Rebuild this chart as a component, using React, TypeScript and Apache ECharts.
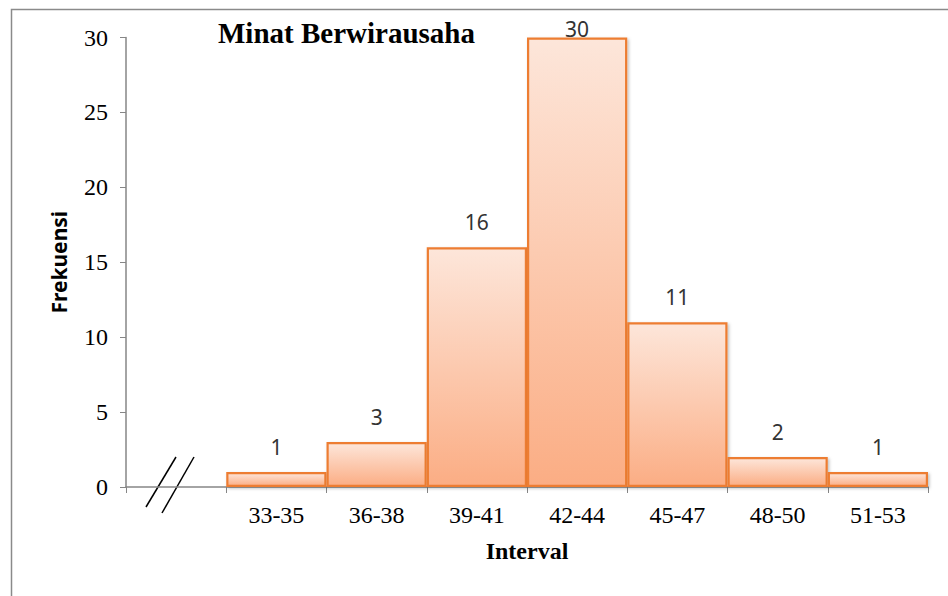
import React, { useEffect, useRef } from "react";
import * as echarts from "echarts";

const titleText = "Minat Berwirausaha";
const categories = ["33-35", "36-38", "39-41", "42-44", "45-47", "48-50", "51-53"];
const frequencies = [1, 3, 16, 30, 11, 2, 1];
const yTicks = { min: 0, max: 30, interval: 5 };
const xName = "Interval";
const yName = "Frekuensi";

export default function App() {
  const ref = useRef<HTMLDivElement>(null);
  useEffect(() => {
    if (!ref.current) return;
    const chart = echarts.init(ref.current, undefined, { renderer: "svg" });
    const xData = ["", ...categories];
    const maxVal = Math.max(...frequencies);
    const seriesData: any[] = ["-", ...frequencies.map((v) =>
      v === maxVal
        ? { value: v, label: { distance: -2 } }
        : v
    )];
    const serif = "'Liberation Serif', 'Times New Roman', serif";
    const sans = "'Noto Sans', sans-serif";
    chart.setOption({
      animation: false,
      backgroundColor: "#ffffff",
      title: {
        text: titleText,
        left: 213,
        top: 13,
        textStyle: { fontFamily: serif, fontWeight: "bold", fontSize: 29, color: "#000" },
      },
      grid: { left: 126, right: 20, top: 37.5, bottom: 109, containLabel: false },
      xAxis: {
        type: "category",
        data: xData,
        boundaryGap: true,
        name: xName,
        nameLocation: "middle",
        nameGap: 52,
        nameTextStyle: { fontFamily: serif, fontWeight: "bold", fontSize: 24, color: "#000" },
        axisLine: { lineStyle: { color: "#868686", width: 1.5 } },
        axisTick: { show: true, length: 6, lineStyle: { color: "#868686" } },
        axisLabel: { fontFamily: serif, fontSize: 24, color: "#000", margin: 16 },
      },
      yAxis: {
        type: "value",
        min: yTicks.min,
        max: yTicks.max,
        interval: yTicks.interval,
        name: yName,
        nameLocation: "middle",
        nameGap: 57,
        nameTextStyle: { fontFamily: sans, fontWeight: "bold", fontSize: 21, color: "#000" },
        splitLine: { show: false },
        axisLine: { show: true, lineStyle: { color: "#868686", width: 1.5 } },
        axisTick: { show: true, length: 6, lineStyle: { color: "#868686" } },
        axisLabel: { fontFamily: serif, fontSize: 24, color: "#000", margin: 18 },
      },
      graphic: [
        {
          type: "rect",
          shape: { x: 11.5, y: 9.5, width: 1200, height: 1200 },
          style: { fill: "none", stroke: "#8a8a8a", lineWidth: 1.5 },
          silent: true,
        },
        {
          type: "line",
          shape: { x1: 146, y1: 507, x2: 176, y2: 457 },
          style: { stroke: "#000", lineWidth: 1.5 },
        },
        {
          type: "line",
          shape: { x1: 162, y1: 513, x2: 194, y2: 457 },
          style: { stroke: "#000", lineWidth: 1.5 },
        },
      ],
      series: [
        {
          type: "bar",
          data: seriesData,
          barCategoryGap: "0%",
          itemStyle: {
            color: new echarts.graphic.LinearGradient(0, 0, 0, 1, [
              { offset: 0, color: "#FDE6DA" },
              { offset: 1, color: "#FBAD84" },
            ]),
            borderColor: "#ED7D31",
            borderWidth: 2.2,
            shadowColor: "rgba(0,0,0,0.25)",
            shadowBlur: 3,
            shadowOffsetX: 1.5,
            shadowOffsetY: 1.5,
          },
          label: {
            show: true,
            position: "top",
            distance: 15,
            fontFamily: sans,
            fontSize: 21,
            color: "#333",
          },
        },
      ],
    });
    return () => chart.dispose();
  }, []);
  return (
    <div
      ref={ref}
      style={{ position: "fixed", left: 0, top: 0, width: 948, height: 596, background: "#fff" }}
    />
  );
}
